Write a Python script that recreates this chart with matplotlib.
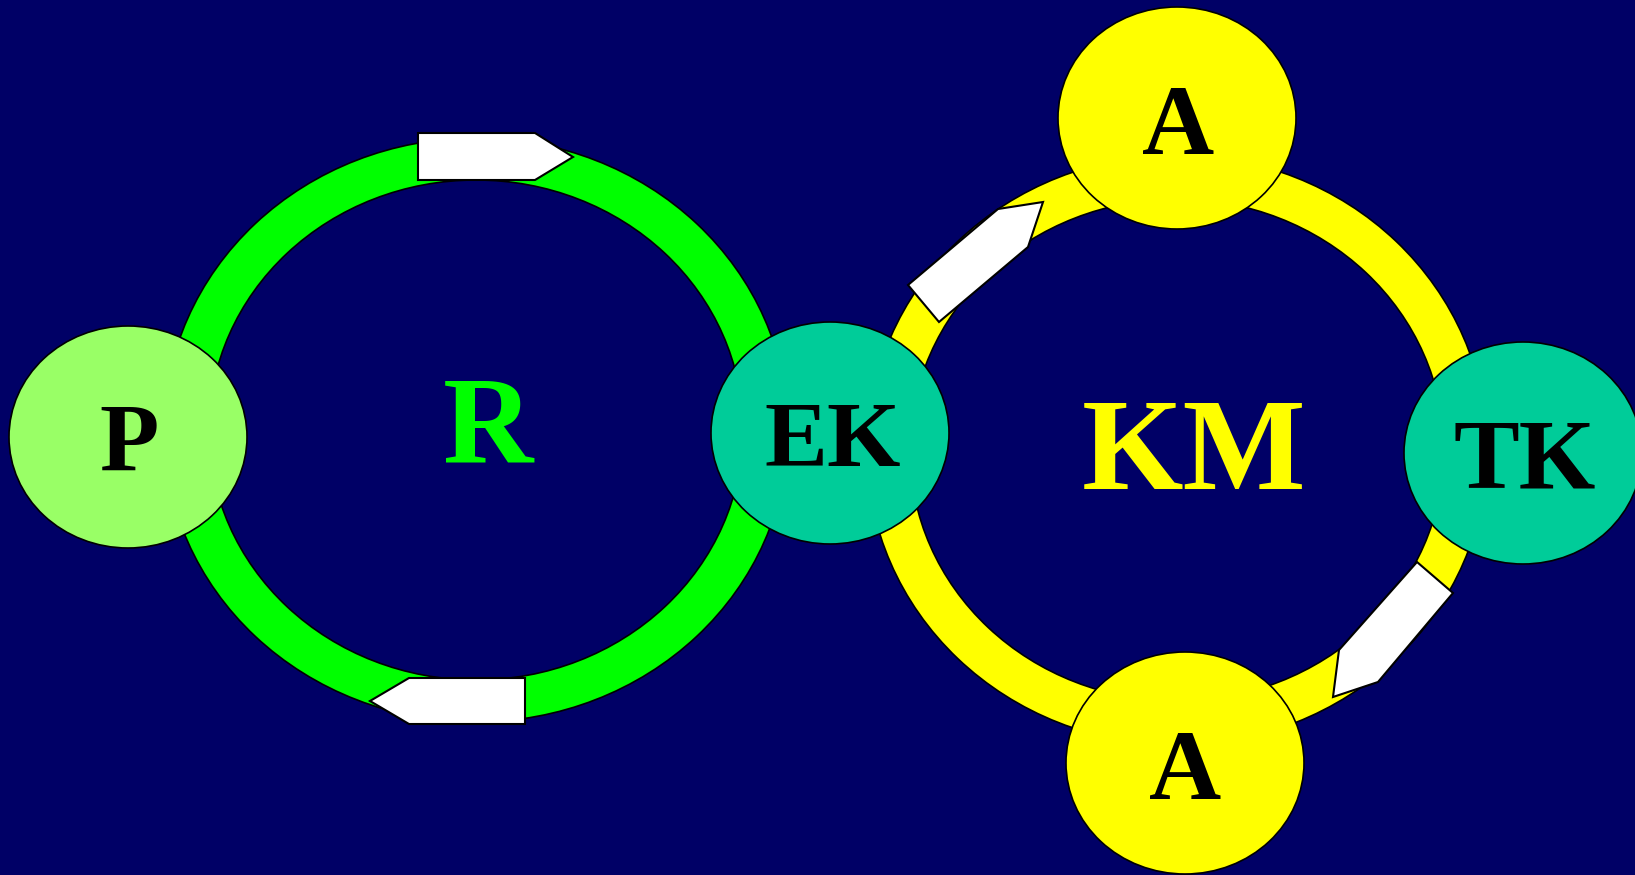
import matplotlib.pyplot as plt
from matplotlib.patches import Ellipse, Polygon

# canvas in pixels
W, H = 1635, 875
bg = "#000066"

# rings: centre x, centre y, outer rx, outer ry, inner rx, inner ry, colour
ring_names = ["R", "KM"]
ring_cx = [476, 1177]
ring_cy = [430, 450]
ring_outer_rx = [312, 310]
ring_outer_ry = [292, 295]
ring_inner_rx = [267, 267]
ring_inner_ry = [250, 251]
ring_colors = ["#00FF00", "#FFFF00"]

# nodes on the rings
node_labels = ["P", "EK", "A", "TK", "A"]
node_cx = [128, 830, 1177, 1523, 1185]
node_cy = [437, 433, 118, 453, 763]
node_rx = [119, 119, 119, 119, 119]
node_ry = [111, 111, 111, 111, 111]
node_colors = ["#99FF66", "#00CC99", "#FFFF00", "#00CC99", "#FFFF00"]

# text labels: x, baseline y, size, colour
label_text = ["P", "R", "EK", "KM", "TK", "A", "A"]
label_x = [129, 488, 833, 1194, 1525, 1178, 1185]
label_y = [471, 462, 466, 489, 488, 154, 799]
label_size = [70, 90, 68, 94, 71, 72, 72]
label_colors = ["black", "#00FF00", "black", "#FFFF00", "black", "black", "black"]

# white arrow pentagons
arrows = [
    [(418, 133), (535, 133), (573, 157), (535, 180), (418, 180)],
    [(525, 678), (409, 678), (370, 701), (409, 724), (525, 724)],
    [(908, 285), (998, 209), (1043, 202), (1028, 247), (939, 322)],
    [(1417, 562), (1453, 593), (1378, 682), (1333, 697), (1339, 650)],
]

fig = plt.figure(figsize=(W / 100, H / 100), dpi=100, facecolor=bg)
ax = fig.add_axes([0, 0, 1, 1])
ax.set_xlim(0, W)
ax.set_ylim(H, 0)
ax.set_facecolor(bg)
ax.axis("off")

# rings
for i in range(len(ring_names)):
    ax.add_patch(Ellipse((ring_cx[i], ring_cy[i]), 2 * ring_outer_rx[i], 2 * ring_outer_ry[i],
                         facecolor=ring_colors[i], edgecolor="black", lw=1.2, zorder=1))
    ax.add_patch(Ellipse((ring_cx[i], ring_cy[i]), 2 * ring_inner_rx[i], 2 * ring_inner_ry[i],
                         facecolor=bg, edgecolor="black", lw=1.2, zorder=1))

# arrows
for pts in arrows:
    ax.add_patch(Polygon(pts, closed=True, facecolor="white", edgecolor="black", lw=1.5, zorder=2))

# nodes
for i in range(len(node_labels)):
    ax.add_patch(Ellipse((node_cx[i], node_cy[i]), 2 * node_rx[i], 2 * node_ry[i],
                         facecolor=node_colors[i], edgecolor="black", lw=1.2, zorder=3))

for i, t in enumerate(label_text):
    ax.text(label_x[i], label_y[i], t, ha="center", va="baseline", fontsize=label_size[i],
            color=label_colors[i], fontfamily="Liberation Serif", fontweight="bold", zorder=4)

fig.savefig("out.png", dpi=100, facecolor=bg)
